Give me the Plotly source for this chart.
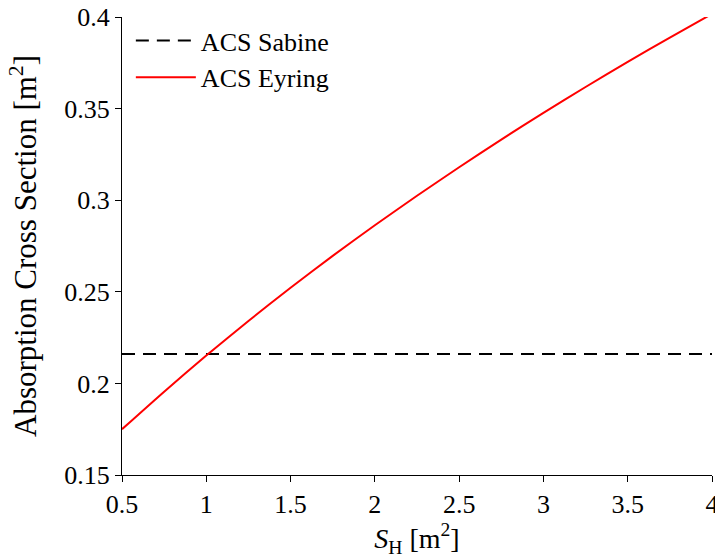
import plotly.graph_objects as go

# Hall surface S_H [m^2]
s_h = [0.5, 0.75, 1.0, 1.25, 1.5, 1.75, 2.0, 2.25, 2.5, 2.75, 3.0, 3.25, 3.5, 3.75, 4.0]

# absorption cross section [m^2]
acs_eyring = [0.175, 0.1955, 0.2152, 0.2341, 0.2522, 0.2696, 0.2863, 0.3024,
              0.318, 0.3331, 0.3477, 0.3618, 0.3755, 0.3888, 0.4017]
acs_sabine = [0.216, 0.216, 0.216, 0.216, 0.216, 0.216, 0.216, 0.216,
              0.216, 0.216, 0.216, 0.216, 0.216, 0.216, 0.216]

x_ticks = [0.5, 1, 1.5, 2, 2.5, 3, 3.5, 4]
x_labels = ["0.5", "1", "1.5", "2", "2.5", "3", "3.5", "4"]
y_ticks = [0.15, 0.2, 0.25, 0.3, 0.35, 0.4]
y_labels = ["0.15", "0.2", "0.25", "0.3", "0.35", "0.4"]

font = "Liberation Serif"

fig = go.Figure()

# Sabine
fig.add_trace(
    go.Scatter(
        x=s_h,
        y=acs_sabine,
        name="ACS Sabine",
        mode="lines",
        line=dict(color="black", width=2, dash="13px,8px")
    )
)

# Eyring
fig.add_trace(
    go.Scatter(
        x=s_h,
        y=acs_eyring,
        name="ACS Eyring",
        mode="lines",
        line=dict(color="#ff0000", width=2, shape="spline", smoothing=0.6)
    )
)

axis_common = dict(
    showgrid=False,
    zeroline=False,
    showline=True,
    linecolor="black",
    linewidth=1,
    ticks="outside",
    ticklen=6,
    tickcolor="black",
    tickfont=dict(family=font, size=26, color="black"),
    ticklabeloverflow="allow",
    automargin=False,
)

fig.update_xaxes(
    range=[0.5, 4],
    tickvals=x_ticks,
    ticktext=x_labels,
    title=dict(text="<i>S</i><sub>H</sub> [m<sup>2</sup>]",
               font=dict(family=font, size=28, color="black"), standoff=6),
    **axis_common
)
fig.update_yaxes(
    range=[0.15, 0.4],
    tickvals=y_ticks,
    ticktext=y_labels,
    title=dict(text="Absorption Cross Section [m<sup>2</sup>]",
               font=dict(family=font, size=31, color="black"), standoff=18),
    **axis_common
)

fig.update_layout(
    width=715,
    height=559,
    paper_bgcolor="white",
    plot_bgcolor="white",
    margin=dict(l=122, r=3, t=17, b=84),
    showlegend=True,
    legend=dict(
        x=0.015, y=1.0, xanchor="left", yanchor="top",
        bgcolor="rgba(0,0,0,0)",
        font=dict(family=font, size=26, color="black"),
        itemwidth=60,
        tracegroupgap=0
    )
)

fig.write_html("out.html", config={"displayModeBar": False},
               post_script="document.body.style.margin='0';")
